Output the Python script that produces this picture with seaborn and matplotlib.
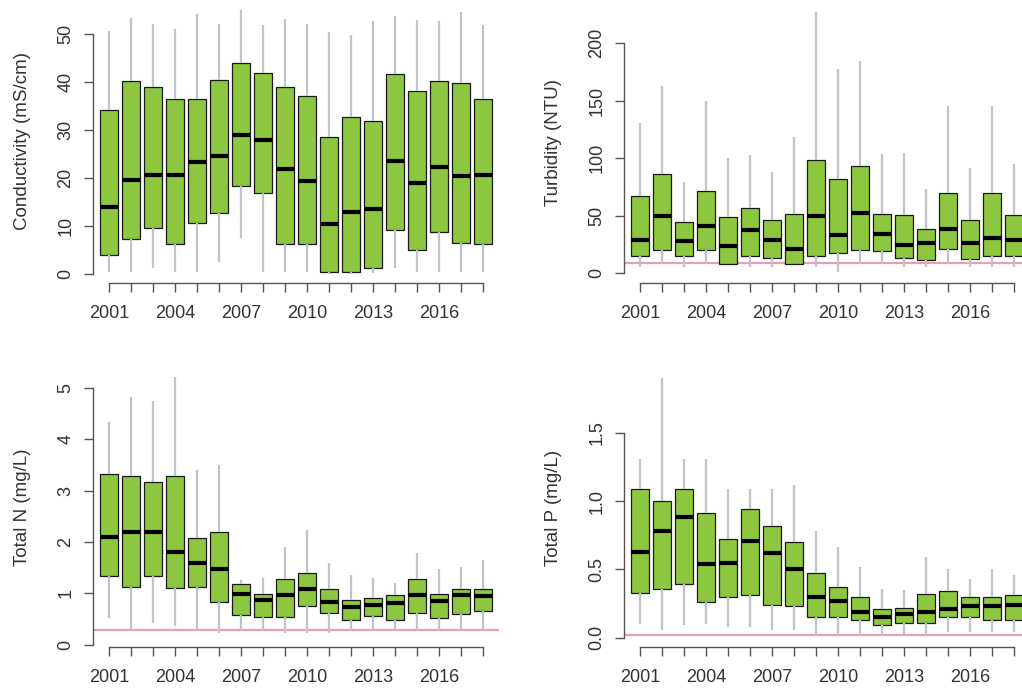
import numpy as np
import pandas as pd
import matplotlib
matplotlib.use("Agg")
import matplotlib.pyplot as plt
import seaborn as sns

# years on the x axis, labels only every third year (like R drops overlaps)
years = [str(y) for y in range(2001, 2019)]
shown = ["2001", "2004", "2007", "2010", "2013", "2016"]

# --- Conductivity (mS/cm): whisker low, Q1, median, Q3, whisker high
cond_lo = [0.5, 0.5, 1.2, 0.5, 0.5, 2.4, 7.4, 0.5, 0.5, 0.5, 0.1, 0.1, 0.3, 1.2, 0.5, 0.5, 0.5, 0.5]
cond_q1 = [3.9, 7.3, 9.6, 6.3, 10.6, 12.6, 18.3, 16.8, 6.2, 6.3, 0.5, 0.5, 1.2, 9.2, 4.9, 8.7, 6.4, 6.3]
cond_md = [14.0, 19.5, 20.5, 20.5, 23.2, 24.5, 28.9, 27.9, 21.8, 19.3, 10.3, 12.8, 13.6, 23.5, 18.9, 22.2, 20.3, 20.7]
cond_q3 = [34.1, 40.2, 38.8, 36.5, 36.5, 40.4, 43.8, 41.8, 38.8, 37.0, 28.5, 32.7, 31.9, 41.6, 38.0, 40.2, 39.7, 36.5]
cond_hi = [50.6, 53.2, 52.0, 50.9, 54.1, 52.0, 54.9, 51.8, 53.0, 52.1, 50.4, 49.7, 52.7, 53.7, 52.8, 52.7, 54.6, 51.8]

# --- Turbidity (NTU)
turb_lo = [5, 8, 5, 8, 8, 5, 5, 8, 5, 1, 8, 8, 5, 5, 8, 5, 5, 5]
turb_q1 = [14.5, 19.8, 14.5, 19.8, 8.1, 14.5, 13.4, 8.1, 14.5, 17.4, 19.8, 19.2, 13.4, 11.0, 20.9, 12.2, 15.1, 15.1]
turb_md = [28.5, 49.4, 27.9, 41.3, 23.3, 37.2, 28.5, 21.2, 50.0, 32.8, 52.3, 33.7, 24.7, 26.5, 38.1, 26.5, 30.5, 28.5]
turb_q3 = [66.9, 86.0, 44.2, 71.5, 48.3, 56.7, 45.9, 51.7, 98.3, 81.7, 93.3, 51.7, 50.3, 38.1, 69.8, 46.2, 69.8, 50.3]
turb_hi = [130.8, 162.8, 79.4, 150.0, 100.3, 102.3, 88.1, 118.6, 226.7, 177.6, 184.6, 103.5, 104.7, 72.7, 145.3, 91.0, 145.3, 94.5]

# --- Total N (mg/L)
tn_lo = [0.52, 0.30, 0.42, 0.36, 0.29, 0.23, 0.29, 0.29, 0.23, 0.23, 0.23, 0.29, 0.29, 0.29, 0.29, 0.29, 0.29, 0.29]
tn_q1 = [1.33, 1.13, 1.33, 1.10, 1.13, 0.84, 0.58, 0.54, 0.54, 0.76, 0.62, 0.49, 0.56, 0.49, 0.62, 0.52, 0.60, 0.65]
tn_md = [2.09, 2.19, 2.19, 1.80, 1.59, 1.48, 0.99, 0.87, 0.98, 1.09, 0.84, 0.73, 0.77, 0.82, 0.98, 0.85, 0.98, 0.95]
tn_q3 = [3.32, 3.28, 3.17, 3.28, 2.07, 2.20, 1.18, 0.99, 1.28, 1.39, 1.09, 0.87, 0.91, 0.97, 1.28, 0.99, 1.09, 1.09]
tn_hi = [4.34, 4.81, 4.73, 5.20, 3.40, 3.50, 1.26, 1.30, 1.91, 2.23, 1.60, 1.36, 1.30, 1.20, 1.78, 1.47, 1.52, 1.65]

# --- Total P (mg/L)
tp_lo = [0.10, 0.06, 0.09, 0.10, 0.08, 0.08, 0.06, 0.06, 0.02, 0.02, 0.02, 0.02, 0.03, 0.02, 0.04, 0.04, 0.04, 0.04]
tp_q1 = [0.33, 0.36, 0.39, 0.26, 0.30, 0.31, 0.24, 0.23, 0.15, 0.15, 0.13, 0.09, 0.11, 0.11, 0.15, 0.15, 0.13, 0.13]
tp_md = [0.63, 0.78, 0.88, 0.54, 0.55, 0.71, 0.62, 0.50, 0.30, 0.27, 0.19, 0.15, 0.17, 0.19, 0.21, 0.23, 0.23, 0.24]
tp_q3 = [1.09, 1.00, 1.09, 0.91, 0.72, 0.94, 0.82, 0.70, 0.47, 0.37, 0.30, 0.21, 0.22, 0.32, 0.34, 0.30, 0.30, 0.31]
tp_hi = [1.31, 1.90, 1.31, 1.31, 1.09, 1.09, 1.09, 1.12, 0.78, 0.66, 0.52, 0.36, 0.35, 0.59, 0.50, 0.43, 0.50, 0.46]

# guideline lines (drawn in pink)
turb_ref = 9
tn_ref = 0.3
tp_ref = 0.02


def long_table(lo, q1, md, q3, hi):
    # five values per year -> quartiles land exactly on q1 / median / q3
    rows = []
    for i, yr in enumerate(years):
        for v in (lo[i], q1[i], md[i], q3[i], hi[i]):
            rows.append({"year": yr, "value": v})
    return pd.DataFrame(rows)


sns.set_style("white")
plt.rcParams["font.family"] = ["Liberation Sans", "DejaVu Sans"]

W, H = 1022, 688
fig = plt.figure(figsize=(W / 100, H / 100), dpi=100)


def panel(x0, y_top, y_bot, ylim, data, ylabel, yticks, yfmt, ref=None):
    width = 406
    ax = fig.add_axes([x0 / W, 1 - y_bot / H, width / W, (y_bot - y_top) / H])
    sns.boxplot(data=data, x="year", y="value", order=years, ax=ax,
                color="#8DC63F", saturation=1, width=0.8, whis=(0, 100),
                linecolor="#1a1a1a", linewidth=0.9, showfliers=False,
                whiskerprops={"color": "#C2C2CA", "linewidth": 1.6},
                capprops={"linewidth": 0},
                medianprops={"color": "black", "linewidth": 3})
    if ref is not None:
        ax.axhline(ref, color="#E8A0B0", lw=1.6, zorder=1)
    ax.set_xlim(-0.73, 17.73)
    ax.set_ylim(*ylim)
    ax.set_xticks(range(len(years)))
    ax.set_xticklabels([y if y in shown else "" for y in years])
    ax.set_yticks(yticks)
    ax.set_yticklabels([yfmt.format(t) for t in yticks], rotation=90, va="center")
    for s in ("top", "right"):
        ax.spines[s].set_visible(False)
    for s in ("left", "bottom"):
        ax.spines[s].set_color("#555555")
        ax.spines[s].set_linewidth(1)
    ax.spines["left"].set_bounds(yticks[0], yticks[-1])
    ax.spines["bottom"].set_bounds(0, len(years) - 1)
    ax.tick_params(axis="x", length=6.5, width=1, color="#555555", pad=9,
                   labelsize=13, labelcolor="#333333", bottom=True)
    ax.tick_params(axis="y", length=6.5, width=1, color="#555555", pad=7,
                   labelsize=13, labelcolor="#333333", left=True)
    ax.set_xlabel("")
    ax.set_ylabel(ylabel, fontsize=13.5, color="#333333")
    ax.yaxis.set_label_coords(-62 / width, 0.5)
    return ax


panel(93, 0, 283, (-1.87, 57.0), long_table(cond_lo, cond_q1, cond_md, cond_q3, cond_hi),
      "Conductivity (mS/cm)", [0, 10, 20, 30, 40, 50], "{:d}")
panel(624, 3, 283, (-8.7, 234.8), long_table(turb_lo, turb_q1, turb_md, turb_q3, turb_hi),
      "Turbidity (NTU)", [0, 50, 100, 150, 200], "{:d}", ref=turb_ref)
panel(93, 367, 647, (-0.04, 5.40), long_table(tn_lo, tn_q1, tn_md, tn_q3, tn_hi),
      "Total N (mg/L)", [0, 1, 2, 3, 4, 5], "{:d}", ref=tn_ref)
panel(624, 369, 647, (-0.068, 1.966), long_table(tp_lo, tp_q1, tp_md, tp_q3, tp_hi),
      "Total P (mg/L)", [0.0, 0.5, 1.0, 1.5], "{:.1f}", ref=tp_ref)

fig.savefig("out.png", dpi=100, facecolor="white")
